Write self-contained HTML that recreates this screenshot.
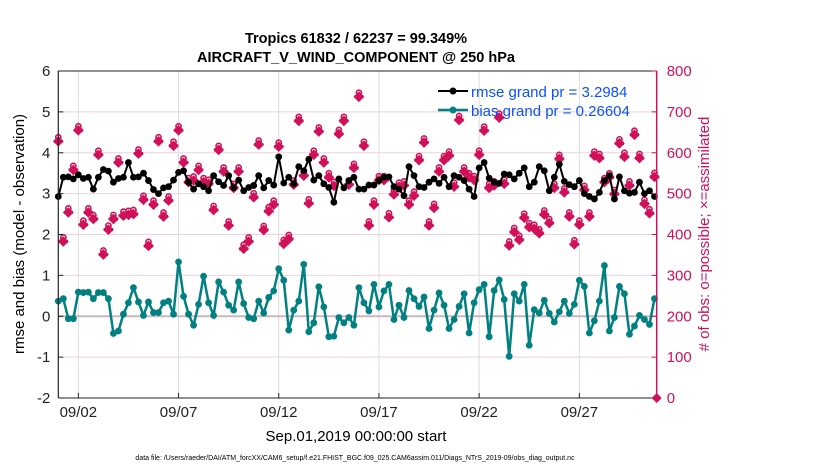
<!DOCTYPE html>
<html><head><meta charset="utf-8"><style>
body{margin:0;background:#fff;width:830px;height:470px;overflow:hidden;font-family:"Liberation Sans",Arial,sans-serif}
svg text{font-family:"Liberation Sans",Arial,sans-serif}
</style></head><body>
<svg id="chart" width="830" height="470" xmlns="http://www.w3.org/2000/svg">
<text x="356" y="43" font-size="14.5" font-weight="bold" text-anchor="middle">Tropics 61832 / 62237 = 99.349%</text>
<text x="356" y="62" font-size="14.5" font-weight="bold" text-anchor="middle">AIRCRAFT_V_WIND_COMPONENT @ 250 hPa</text>
<g id="grid"></g>
<g id="marks"></g>
<g id="axes"></g>
<text transform="translate(24,234) rotate(-90)" font-size="15" text-anchor="middle">rmse and bias (model - observation)</text>
<text transform="translate(709,234) rotate(-90)" font-size="15" fill="#d1105a" text-anchor="middle"># of obs: o=possible; ×=assimilated</text>
<text x="356" y="441" font-size="15" text-anchor="middle">Sep.01,2019 00:00:00 start</text>
<text x="355" y="460" font-size="7" text-anchor="middle">data file: /Users/raeder/DAI/ATM_forcXX/CAM6_setup/f.e21.FHIST_BGC.f09_025.CAM6assim.011/Diags_NTrS_2019-09/obs_diag_output.nc</text>
<g>
<line x1="438" y1="91" x2="468" y2="91" stroke="#000" stroke-width="2"/><circle cx="453" cy="91" r="3.5" fill="#000"/>
<text x="471" y="97" font-size="15" fill="#0a50ff">rmse grand pr = 3.2984</text>
<line x1="438" y1="110" x2="468" y2="110" stroke="#008080" stroke-width="2.5"/><circle cx="453" cy="110" r="3.5" fill="#008080"/>
<text x="471" y="116" font-size="15" fill="#0a50ff">bias grand pr = 0.26604</text>
</g>
</svg>
<script>
const rmseVals=[2.93,3.40,3.41,3.36,3.46,3.37,3.40,3.11,3.40,3.59,3.55,3.28,3.37,3.40,3.76,3.40,3.41,3.50,3.32,3.10,3.00,3.14,3.17,3.33,3.52,3.56,3.28,3.11,3.24,3.17,3.07,
3.44,3.29,3.20,3.44,3.14,3.33,3.07,3.15,3.20,3.44,3.14,3.32,3.21,3.90,3.26,3.40,3.24,3.66,3.56,3.84,3.33,3.44,3.24,3.15,2.79,3.36,3.14,3.32,3.40,3.11,
3.11,3.21,3.21,3.32,3.40,3.41,3.17,3.11,2.95,3.66,3.44,3.17,3.15,3.28,3.36,3.25,3.40,3.17,3.44,3.40,3.32,3.11,2.93,3.63,3.76,3.38,3.28,3.25,3.48,3.46,
3.36,3.50,3.63,3.17,3.28,3.66,3.56,3.07,3.40,3.72,3.30,3.22,3.17,3.32,3.00,2.93,2.87,3.03,3.32,3.44,2.87,3.41,3.07,3.01,3.03,3.28,3.00,3.07,2.93];
const biasVals=[0.37,0.43,-0.06,-0.06,0.59,0.58,0.59,0.43,0.58,0.58,0.43,-0.42,-0.36,0.05,0.33,0.70,0.35,0.02,0.35,0.09,0.09,0.33,0.37,0.05,1.33,0.49,0.05,-0.22,0.29,0.98,0.33,
0.02,0.84,0.59,0.27,0.15,0.84,0.31,-0.03,-0.06,0.37,0.08,0.46,0.62,1.16,0.88,-0.34,0.15,0.37,1.27,-0.38,-0.16,0.72,0.23,-0.50,-0.49,-0.03,-0.16,-0.03,-0.22,0.70,
0.33,0.13,0.78,0.23,0.62,0.78,-0.08,0.27,-0.03,0.63,0.43,0.24,0.47,-0.30,0.15,0.57,0.27,-0.30,-0.08,0.24,0.55,-0.41,0.33,0.65,0.78,-0.50,0.63,0.89,0.41,-0.98,
0.55,0.37,0.78,-0.71,0.16,0.08,0.39,0.07,-0.14,0.11,0.37,0.07,0.29,0.88,0.73,-0.41,-0.11,0.37,1.24,-0.36,-0.03,0.73,0.55,-0.44,-0.24,0.02,-0.08,-0.20,0.43];
const obsVals=[628,383,454,558,655,424,454,438,595,351,412,438,576,446,448,450,598,485,372,473,628,444,483,617,655,576,528,532,558,528,524,
460,607,554,422,514,554,365,383,491,620,411,457,473,615,377,389,522,678,544,476,595,652,576,540,519,646,678,522,563,737,
617,422,473,533,533,442,498,517,520,473,495,582,625,422,465,554,582,593,517,680,554,540,533,595,654,514,520,686,524,373,
406,387,441,418,414,403,449,428,514,585,503,444,376,424,509,444,593,587,528,540,499,623,590,520,644,587,475,452,541];
const leftTicks=[-2,-1,0,1,2,3,4,5,6];
const rightTicks=[0,100,200,300,400,500,600,700,800];
const dateTicks=[1,6,11,16,21,26];
const dateLabels=["09/02","09/07","09/12","09/17","09/22","09/27"];

const L=58.3,R=656.7,T=71,B=398;
const yL=v=>B-(v+2)*(B-T)/8;
const yR=v=>B-v*(B-T)/800;
const xI=i=>L+i*20.04/4;
const xD=d=>L+d*20.04;
const NS="http://www.w3.org/2000/svg";
function mk(parent,tag,attrs){const e=document.createElementNS(NS,tag);for(const k in attrs)e.setAttribute(k,attrs[k]);parent.appendChild(e);return e;}
const grid=document.getElementById('grid'),marks=document.getElementById('marks'),axes=document.getElementById('axes');
mk(grid,'rect',{x:L,y:T,width:R-L,height:B-T,fill:'#fff'});
leftTicks.forEach(v=>{if(v===-2||v===6||v===0)return;const g=mk(grid,'line',{x1:L,x2:R,y1:yL(v),y2:yL(v),stroke:'#f2cfdc','stroke-width':1});

});
dateTicks.forEach(d=>{const g=mk(grid,'line',{x1:xD(d),x2:xD(d),y1:T,y2:B,stroke:'#dcdcdc','stroke-width':1});

});
const zl=mk(grid,'line',{x1:L,x2:R,y1:yL(0),y2:yL(0),stroke:'#c9b6bf','stroke-width':2});


// obs markers
const MC='#d1105a';
obsVals.forEach((v,i)=>{const x=xI(i),y=yR(v);
const p=mk(marks,'circle',{cx:x,cy:y-4,r:2.6,fill:'none',stroke:MC,'stroke-width':1.6});


const a=mk(marks,'path',{d:`M${x-4.5},${y}L${x},${y-4.5}L${x+4.5},${y}L${x},${y+4.5}Z M${x-4},${y-1}h8v2h-8z`,fill:MC,stroke:MC,'stroke-width':1.2});

});
const endM=mk(marks,'path',{d:`M${R-5},${B}L${R},${B-5}L${R+5},${B}L${R},${B+5}Z`,fill:MC});


// bias
const bl=mk(marks,'polyline',{points:biasVals.map((v,i)=>xI(i)+','+yL(v)).join(' '),fill:'none',stroke:'#008080','stroke-width':2.5});


biasVals.forEach((v,i)=>{const c=mk(marks,'circle',{cx:xI(i),cy:yL(v),r:3.4,fill:'#008080'});

});
// rmse
const rl=mk(marks,'polyline',{points:rmseVals.map((v,i)=>xI(i)+','+yL(v)).join(' '),fill:'none',stroke:'#000','stroke-width':2});


rmseVals.forEach((v,i)=>{const c=mk(marks,'circle',{cx:xI(i),cy:yL(v),r:3.4,fill:'#000'});

});
// axes
mk(axes,'line',{x1:L,x2:R,y1:T,y2:T,stroke:'#222','stroke-width':1});
mk(axes,'line',{x1:L,x2:R,y1:B,y2:B,stroke:'#222','stroke-width':1});
mk(axes,'line',{x1:L,x2:L,y1:T,y2:B,stroke:'#222','stroke-width':1.2});
mk(axes,'line',{x1:R,x2:R,y1:T,y2:B,stroke:MC,'stroke-width':1.5});
leftTicks.forEach(v=>{const y=yL(v);mk(axes,'line',{x1:L,x2:L+5,y1:y,y2:y,stroke:'#222'});
const t=mk(axes,'text',{x:L-8,y:y+5,'font-size':15,'text-anchor':'end',fill:'#222'});t.textContent=v;

});
rightTicks.forEach(v=>{const y=yR(v);mk(axes,'line',{x1:R-5,x2:R,y1:y,y2:y,stroke:MC});
const t=mk(axes,'text',{x:R+10,y:y+5,'font-size':15,fill:MC});t.textContent=v;

});
dateTicks.forEach((d,k)=>{const x=xD(d);mk(axes,'line',{x1:x,x2:x,y1:B-5,y2:B,stroke:'#222'});
const t=mk(axes,'text',{x:x,y:417,'font-size':15,'text-anchor':'middle',fill:'#222'});t.textContent=dateLabels[k];

});
</script>
</body></html>
